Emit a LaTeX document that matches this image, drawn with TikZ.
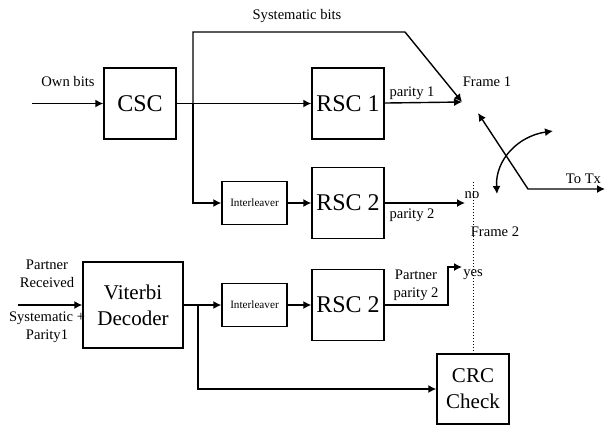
\documentclass[tikz,border=0pt]{standalone}
\usepackage{fontspec}
\setmainfont{Liberation Serif}
\usetikzlibrary{positioning, calc, arrows.meta}

\begin{document}
\begin{tikzpicture}[
         x=0.5pt, y=-0.5pt,
         >={Latex[length=4pt, width=4pt]},
         line width=0.7pt,
         block/.style={draw, inner sep=0pt, minimum width=36pt, minimum height=35.5pt,
                       font=\fontsize{12}{14}\selectfont},
         decoder/.style={block, minimum width=50pt, minimum height=43pt, align=center,
                         font=\fontsize{10.5}{13}\selectfont},
         checker/.style={decoder, minimum width=36pt, minimum height=35pt},
         interleave/.style={draw, inner sep=0pt, minimum width=32.5pt, minimum height=21.5pt,
                            font=\fontsize{5.6}{6.5}\selectfont},
         tag/.style={font=\fontsize{7.3}{9}\selectfont, align=center, inner sep=0pt}
      ]
         \useasboundingbox (0,0) rectangle (605,425);

         % Nodes for the encoder blocks
         \node[block] (csc) at (140,103.5) {CSC};
         \node[block] (rsc1) at (348,103.5) {RSC 1};
         \node[interleave] (il1) at (254.5,203) {Interleaver};
         \node[block] (rsc2) at (348,203) {RSC 2};

         % Nodes for the partner path
         \node[decoder] (vit) at (133,305) {Viterbi\\Decoder};
         \node[interleave] (il2) at (254.5,305) {Interleaver};
         \node[block] (rsc2b) at (348,305) {RSC 2};
         \node[checker] (crc) at (473,389) {CRC\\Check};

         % Free ends and corners
         \coordinate (own) at (32,103.5);
         \coordinate (j1) at (193,103.5);
         \coordinate (sysa) at (193,32);
         \coordinate (sysb) at (405,32);
         \coordinate (f1) at (462,102);
         \coordinate (f2) at (465,203);
         \coordinate (swa) at (478,113);
         \coordinate (swb) at (528,189);
         \coordinate (tx) at (605,189);
         \coordinate (arca) at (553,131);
         \coordinate (arcb) at (497,194);
         \coordinate (dtop) at (473,182);
         \coordinate (part) at (18,305);
         \coordinate (j2) at (198,305);
         \coordinate (pp) at (448,267);
         \coordinate (yes) at (462,267);

         % Arrows of the encoder
         \draw[->] (own) -- (csc);
         \draw[->] (csc) -- (rsc1);
         \draw[->] (j1) -- (sysa) -- (sysb) -- (f1);
         \draw[->] (j1) |- (il1);
         \draw[->] (il1) -- (rsc2);
         \draw[->] (rsc1) -- (f1);
         \draw[->] (rsc2) -- (f2);

         % Switch
         \draw[<->] (swa) -- (swb) -- (tx);
         \draw[<->] (arca) .. controls (518,136) and (495,160) .. (arcb);
         \draw[densely dotted, line width=0.5pt] (dtop) -- (crc);

         % Arrows of the partner path
         \draw[->] (part) -- (vit);
         \draw[->] (vit) -- (il2);
         \draw[->] (il2) -- (rsc2b);
         \draw[->] (rsc2b) -- (rsc2b.east -| pp) -- (pp) -- (yes);
         \draw[->] (j2) |- (crc);

         % Labels
         \node[tag] (lsys) at (297,16) {Systematic bits};
         \node[tag] (lown) at (68,81) {Own bits};
         \node[tag] (lpar1) at (412,93.5) {parity 1};
         \node[tag] (lfr1) at (487,81.5) {Frame 1};
         \node[tag] (ltx) at (583.5,178.5) {To Tx};
         \node[tag] (lpar2) at (412,215) {parity 2};
         \node[tag] (lno) at (472,195) {no};
         \node[tag] (lfr2) at (495,232) {Frame 2};
         \node[tag] (lyes) at (473,275) {yes};
         \node[tag] (lpp) at (416,285) {Partner\\parity 2};
         \node[tag] (lrec) at (47,274) {Partner\\Received};
         \node[tag] (lsp) at (47,327) {Systematic +\\Parity1};
      \end{tikzpicture}
\end{document}
